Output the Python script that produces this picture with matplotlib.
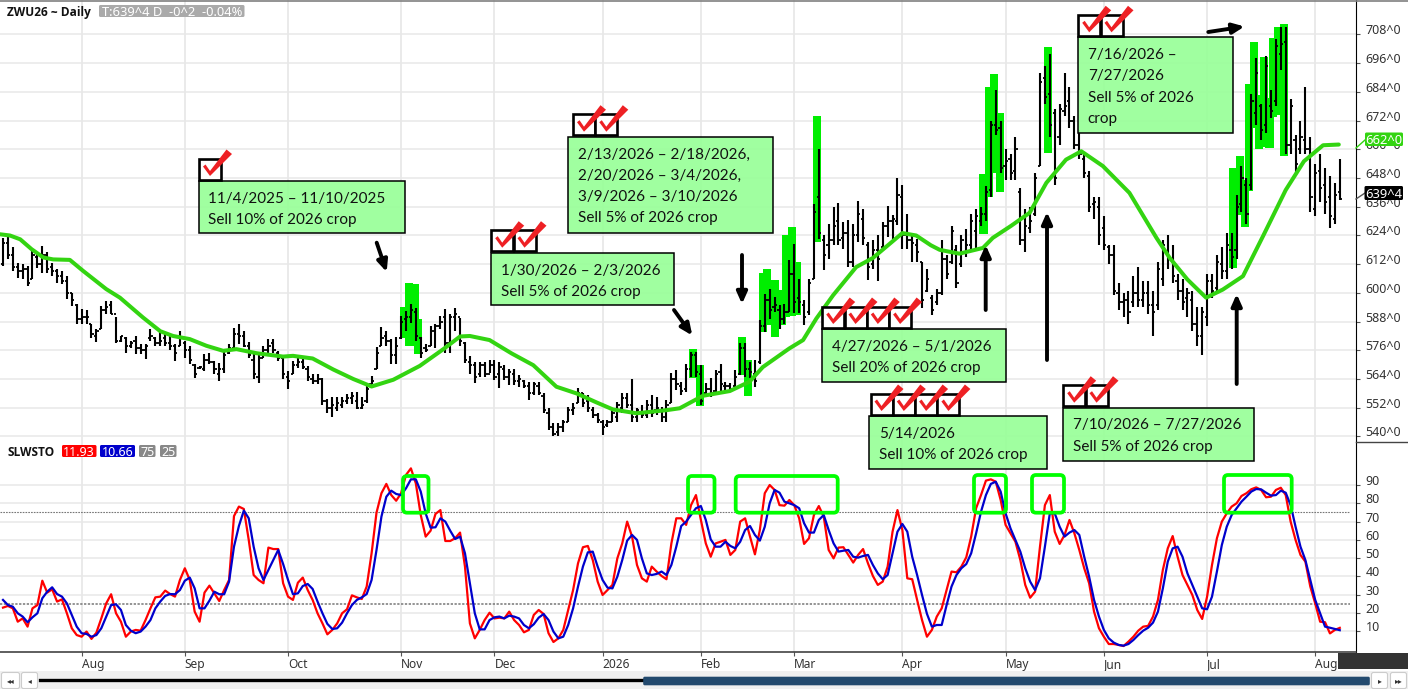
# -*- coding:utf-8 -*-
# ZWU26 daily bars with slow stochastic and the sell signal notes

import numpy as np
import matplotlib
matplotlib.use("Agg")
import matplotlib.pyplot as plt
from matplotlib.patches import Rectangle, Polygon, FancyBboxPatch, FancyArrowPatch

plt.rcParams['font.family'] = ['Noto Sans', 'DejaVu Sans']

# bar values, one per trading day
highs = [623,623.5,619,612.7,612,611.3,617.6,616.6,619.7,616.9,
    612.7,610,609.2,607,600,595.3,593.2,593,587,584.8,
    594.6,596.5,596.5,590,582,581.4,580,582,578.6,578.6,
    584.8,581.4,584,582.7,582,578.6,584,580,577.9,570.2,
    569.5,574.4,575,571.6,570.9,575.8,578.6,585.5,587,584,
    579.3,575,575,577.9,580.7,580.7,575.8,573,567.4,571.6,
    573,572.3,569.5,566,566,564.6,555.6,556.3,556.3,556.3,
    557.7,558.4,558.4,556.3,561.2,565.3,577.6,585.7,584,580.7,
    581.4,590.4,592.5,595.3,593.9,581.4,578.6,586.2,587,590.4,
    593.2,591,593.9,589.7,579.3,573.7,571.2,571.2,571.2,571.9,
    571.9,571.2,569.8,568.4,568.4,565.7,563.6,562.9,562.9,562.9,
    558,551.8,545.5,545.5,546.9,552.5,553.8,560.1,558,557.3,
    552.5,549.7,546.9,546.9,551.1,554.5,558,558,564,551.8,
    553.2,555.2,557.3,556.6,552.5,555.2,566.4,567.8,562.9,570.5,
    575.4,575.4,569.8,562.2,564.3,567.8,570.5,562.9,562.2,567.8,
    578.9,578.9,571.2,571.9,588.6,599.7,601.8,598.3,594.9,595.5,
    613.6,620.6,606,596.9,606,637.3,660.2,624,628.9,635.9,
    637.7,629.6,630.3,628.9,638.6,635.2,621.3,622,624,629.6,
    636.3,632.4,648,644.9,633,624,622.7,612.9,610,599,
    601.8,622,616,628,620,624,626.5,633,635,636,
    644.6,672,685,672,660,658,665,644,635,636,
    650,692,695,700,677,679,692,686,674,668,
    658,651,640,640,632,620,620,604,600,601,
    607,611,605,605,601,613,622,624,620,608,
    606,602,601,594,594,608,608,616,619,625,
    625,641,653,648,683,698,679,699,685,706,
    711,711,681,666,672,686,665,654,658,652,649,646,656]
lows = [611.3,614,609.2,606.4,605.7,602.7,605.7,610.6,608.5,608.5,
    607,604.3,603.6,597.4,594.6,587,587,587,581,579.3,
    584.8,591,591,579,579.3,575,577,574.4,574.4,572.3,
    580,578,577.9,577.9,576,571.6,577.9,573,570.2,564.6,
    568,567.4,570.2,566,563.2,566.7,574.4,576.5,578.6,577.2,
    573,563.9,562.5,573,574.4,575,571.6,563.9,559.8,566,
    568.8,568,563.2,561.9,561.9,553,550,548,550.7,552,
    553.5,553.5,551.4,551.4,554.2,561.9,568,577.9,577.9,570.2,
    570.2,580.7,584,587.6,580,573,575.5,577.9,577,584.8,
    575,575,584,578,570.9,566,562.2,565,565,566.4,
    563.6,560.1,563.6,561.5,561.5,560.8,560.1,555.2,557.3,557.3,
    549.7,542.7,540.4,540.4,542,546.2,549,553.8,552.5,550.4,
    547.6,545.5,540.6,544.1,546.2,546.2,549.7,551.8,546.2,546.2,
    547.6,547.6,548.3,549,546.2,546.2,553.8,559.4,557.3,558.7,
    565,565,553.2,556.6,556.6,558.7,558.7,559.4,558.7,560.8,
    565.7,565,564.3,560.8,570.5,583.7,589.3,592,585.1,587.2,
    592,591.4,591.4,586.5,590.7,606,622.7,609.5,614.3,619.9,
    619.9,618.5,610.8,610.8,621.3,619.9,605.3,610,604.9,618.5,
    623.4,622.7,628.2,618.5,618.5,612.9,612.9,593.5,600.4,590.7,
    594.9,599,606,612,602,611,615,617,618,628,
    630,640,666,650,647,647,647,620,617,625,
    632,653,679,665,645,662,674,669,660,656,
    648,634,631,620,618,612,599,593,590,587,
    594,594,594,591,582,593,603,610,604,597,
    593,590,584,578,574,586,598,600,606,606,
    610,614,634,629,643,670,664,667,673,678,
    693,658,658,650,658,658,634,632,638,633,627,629,639]
opens = [612,621,616,611,609,610,606,615,612,616,
    611,609,607,605,600,595,589,590,587,582,
    585,593,595,591,580,581,578,580,577,576,
    581,581,579,581,579,578,578,579,576,570,
    568.5,568,572,571,566,568,575,577,583,582,
    578,572,565,573,576,579,575,573,565,566,
    570,571,568,564,563,564,555,552,552,553,
    555,556,555,552,555,562,568,578,582,580,
    574,581,589,590,592,581,577,578,584,586,
    590,579,590,590,579,571,570,566,570,566,
    570,566,568,565,566,563,563,561,558,561,
    557,550,544,542,544,546,551,554,558,555,
    551,549,546,545,546,548,552,556,553,548,
    550,549,553,551,551,548,554,564,561,560,
    568,574,566,558,560,559,567,561,561,561,
    566,577,568,566,571,586,597,594,593,589,
    592,608,598,595,592,606,640,622,620,622,
    630,623,625,613,624,631,620,612,618,619,
    628,630,630,640,624,622,620,613,601,598,
    596,600,614,613,618,612,617,620,626,630,
    633,643,670,669,653,656,651,642,622,627,
    633,653,690,683,675,665,676,680,672,662,
    656,649,637,636,627,619,616,600,596,597,
    596,600,597,600,595,595,606,617,614,605,
    601,598,597,587,582,590,605,602,612,609,
    618,618,637,645,645,675,678,670,678,680,
    700,705,662,664,660,664,660,635,651,645,640,631,642]
closes = [621,616,611,609,610,604,616,612,616,610,
    609,607,605,600,597,589,590,590,583,584,
    593,594,591,580,582,578,579,577,576,578,
    582,579,580,579,578,575,581,576,572,566,
    569,572,571,568,568,574,577,583,582,578,
    574,566,573,576,578,576,573,566,563,570,
    571,569,565,563,564,555,552,553,554,555,
    556,557,552,553,560,563,575,581,580,574,
    578,588,590,593,582,575,576,584,586,588,
    579,590,591,580,572,570,565,570,566,570,
    565,569,565,567,563,564,561,558,562,558,
    551,544,541,544,546,551,552,558,554,552,
    549,547,544,546,550,553,556,553,548,551,
    549,553,550,552,548,553,564,562,559,568,
    574,567,555,560,558,566,562,561,560,565,
    577,568,567,563,586,597,593,595,589,592,
    608,596,596,590,604,634,625,616,622,628,
    622,625,613,624,633,623,611,618,614,628,
    630,631,641,624,622,621,617,597,606,593,
    600,614,608,626,604,622,620,630,632,633,
    642,670,668,652,655,650,660,622,628,630,
    648,688,682,670,648,677,678,672,662,658,
    650,636,638,624,620,616,601,596,597,592,
    600,597,600,595,592,610,620,614,607,601,
    596,600,587,582,592,605,601,613,609,620,
    615,636,648,633,680,692,668,695,676,703,
    704,662,678,654,665,660,640,650,644,638,632,641,639.4]

# green thick marks behind the sell days
hl_pos = [81.6,82.6,83.8,84.5,140.4,141.8,150.3,151.5,154.6,155.4,157,158.4,159.3,160.5,161.6,165.6,
    199.5,200.6,201.6,202.9,212.6,250.3,251.7,252.7,253.5,254.5,255.5,256.5,257.7,258.5,259.5,260.7]
hl_top = [594.3,604.3,603.6,589,576.5,569.8,581.5,571.9,608.5,609.9,605.6,601.4,624,627.5,613,673.8,
    649.7,686.2,691.4,675.3,702.6,652.3,657.4,647.2,687.3,705,682.7,698.7,681.5,706.7,711.3,712.3]
hl_bottom = [581,577.9,577.9,574.4,564.6,552.9,565.7,556.9,583.5,586.8,581.4,586.8,590,590.4,590.7,621.3,
    624.6,640.2,650.2,642.2,658.3,610.5,632.6,627.6,642.6,669,660.1,661,660.7,673.6,674.4,657.2]

# moving average, read at its bends
ma_pos = [-0.6,1.4,3.5,5.8,8.2,10.2,13.6,16.3,21,23.8,28.5,32,34.6,38,41.4,44.8,47.5,51.6,57,59,63,67.2,71.3,75,
    79.4,84.8,89.6,93,95,99,103.5,107.9,112.6,116.7,120.7,124.1,128.9,135,137.7,142.4,147.9,151.9,154.6,160,
    162.8,165.5,168.9,173.6,177,183,185.8,188.8,190.6,194.6,199.4,201.4,205.1,208.9,212.3,216.3,219.4,223.8,
    229.2,234.7,237.4,241,244.8,248.2,252.3,256.4,261,264.7,268.6,271.8]
ma_val = [624.5,624,622.4,618.3,614.8,614,613.8,609.2,601.6,598,589.7,584,582,580.7,577.9,575.8,576.5,574.8,573.4,
    573.7,572.6,568,564,560.9,563.7,569.5,576.5,581.8,582,580.3,574.7,569.8,560.8,558,554.3,551.3,549.7,551,
    551.8,557,559,562.9,569,576.8,580.3,589.3,599,610.8,614.6,625,624,619.9,618,616.4,618.8,623,628,633.5,
    646,655.7,659.2,653,641.8,623,614.6,605.6,598,601.4,607,623.8,643,655,661.7,662]

# slow stochastic
stoch_red = [23,23.9,22.6,15.3,17.1,12.6,22.6,24.4,37.7,31.2,33,26.3,27.5,19.9,11.7,8,7.1,9.9,5.9,9.3,
    17.1,25.3,30.3,19.9,15.3,7.1,9.9,10.8,10.4,16.2,22.6,28.6,29,32.3,30.4,29,38.1,44.5,38.1,20.8,
    15.3,31.2,35,30.8,26.6,32.6,38.1,73,78.2,76.9,60,40.8,38.1,36.3,55.8,55,55,36.3,29,27.2,
    36.6,39.4,32.6,27.2,19.9,14.4,8.4,10.8,14.4,19.9,22.1,29.7,28.6,27.7,34.5,52.7,74.9,85.5,90.6,84.5,
    81.4,85.5,95.5,99.1,90.9,73.6,61.8,65,74.2,76.3,59.4,59.4,60.9,64,45.4,14.4,
    6.2,10.8,16.2,20.2,17.1,17.5,17.1,20.8,16.2,13.5,9.5,10.8,19,21.7,19.5,9,4.2,6.2,10.8,21.7,
    32.6,47.2,56,56.7,49,37.2,29.9,32.6,35.4,49.9,58.1,70,61.8,46.3,39,37.2,45.4,42.7,40.3,38.5,
    58.1,71.8,71.8,68.2,79,84.5,70.9,58.1,50.8,58.1,59,60,51.8,54.5,70,71.8,61.8,52.1,65.4,85.5,
    90,87.3,79,78.7,81.8,79,71.8,57.8,60.9,73.6,78.5,72.7,54.5,49.9,55.8,56,51.8,47.6,51.8,55,
    47.2,40.3,35.4,37.2,45.4,64.5,76.3,65.4,39,38.5,27.2,16.2,7.1,10.8,18.1,
    22.6,32.6,42.7,42.3,45.4,50.5,61.8,77.3,84.5,92.4,93.1,91.8,81.8,68.2,63.6,59,49,35.4,28.4,31.7,
    56.3,79,84.5,64.5,57.8,62.7,70.9,63.6,54.5,44.5,36.3,20.8,11.7,7.1,3.1,3.1,2.6,2,4.4,7.1,
    10.4,12.6,13,18.1,27.2,43.6,55.4,62.1,50.8,40.8,35.4,29.9,21.7,16.8,29,46.3,60.9,70,74.5,78.2,
    80,84,85.5,87.7,88.7,87.3,83.3,83.6,87.3,88.5,84.5,70,60,51.8,48.1,34.5,25.3,15.3,15,8.9,10.8,11.93]
stoch_blue = [27.2,24.4,23.5,19.9,18.1,15,17.7,19.9,28.1,31.7,34.1,30.4,29,25.3,19,12.6,9,8.6,7.1,8,
    11.7,18.1,24.4,24.8,21.7,13.5,10.4,9,9.9,12.6,16.2,22.6,26.3,29.4,30.4,30.3,32.6,37.7,39.4,33.5,
    22.6,22.6,26.8,31.7,30.3,30.3,37.2,56.3,67.6,76,71.8,56.3,44.5,38.1,43.6,49,54.5,46.8,38.1,30.3,
    30.8,34.8,35.9,33.2,26.3,19.9,14.1,11.3,11.7,14.8,19.9,24.4,27.2,28.6,30.4,38.1,54.5,72.7,83.6,86.9,
    85.1,84.5,88.2,93.1,93.1,86.4,74.5,66.7,66.9,71.8,70,65,60.5,61.8,52.7,36.3,
    19.9,11.1,11.1,16.2,17.7,18.1,17.1,18.6,18.1,17.1,13.5,11.7,13.9,17.5,19.5,16.2,9.9,6.2,7.1,13.5,
    22.6,34.5,45.4,53.2,53.6,45.4,38.1,33.9,33.5,39.9,49,59.6,62.7,60,49.9,41.7,40.8,41.4,42.7,40.8,
    46.3,56.3,67.6,70,73.6,77.3,78.5,70.9,60.3,56.3,56.3,59,56.7,55.4,59,65.4,67.6,62.7,59.6,67.2,
    80,87.3,85.8,80.9,80,79,77.3,69.1,64,64,70.9,73.6,65.4,58.1,53.6,54.1,54.5,50.8,50.3,51.2,
    51.8,46.3,41.7,38.5,40.8,52.7,64.5,68.7,64.5,50.8,40.8,29.9,19.6,12.6,13.5,
    13.5,24.4,34.5,40.8,44.5,46.8,52.7,63.6,75.4,84.5,90.6,91.8,86.4,74.5,66.3,60,53.6,44.5,37.2,32.6,
    39,56.3,74.5,74.5,67.2,61.8,64,65.4,62.7,50.8,39.9,27.2,18.1,10.8,6.2,3.9,2.6,2.2,3.1,5.3,
    8,10.4,12,14.8,20.8,33.5,48.1,55.4,56.3,50.8,41.7,35.4,29,22.6,22.1,29,42.7,57.2,67.2,73.6,
    77.3,80.9,83.6,86.4,87.8,87.6,85.8,84.2,84.5,86.9,85.8,79,67.2,56.3,49,38.1,27.2,19.9,12.6,12,11.3,10.66]

month_pos = [16, 37, 58, 81, 100, 122, 142, 161, 183, 204, 224, 245, 267]
month_names = ["Aug", "Sep", "Oct", "Nov", "Dec", "2026", "Feb", "Mar", "Apr", "May", "Jun", "Jul", "Aug"]
price_ticks = [540, 552, 564, 576, 588, 600, 612, 624, 636, 648, 660, 672, 684, 696, 708]
stoch_ticks = [10, 20, 30, 40, 50, 60, 70, 80, 90]

# (left, top, right, bottom, left of first check box, checks, text lines)
notes = [
    (198.5, 181, 404.5, 233, 199, 1, ["11/4/2025 – 11/10/2025", "Sell 10% of 2026 crop"]),
    (490.7, 252.7, 674, 305, 491.2, 2, ["1/30/2026 – 2/3/2026", "Sell 5% of 2026 crop"]),
    (568.3, 136.7, 772.7, 233.3, 573, 2, ["2/13/2026 – 2/18/2026,", "2/20/2026 – 3/4/2026,", "3/9/2026 – 3/10/2026", "Sell 5% of 2026 crop"]),
    (821.7, 329, 1005.7, 382, 822.2, 4, ["4/27/2026 – 5/1/2026", "Sell 20% of 2026 crop"]),
    (869.3, 416, 1047.3, 469, 870.5, 4, ["5/14/2026", "Sell 10% of 2026 crop"]),
    (1062.7, 407.7, 1254.3, 461, 1063.2, 2, ["7/10/2026 – 7/27/2026", "Sell 5% of 2026 crop"]),
    (1077.7, 37.3, 1233.3, 133.3, 1078.2, 2, ["7/16/2026 –", "7/27/2026", "Sell 5% of 2026", "crop"]),
]
# (x0, y0, x1, y1) in pixels
arrows = [(376.7, 242.7, 386.7, 272), (674, 310, 692.3, 335.5), (742, 255, 742, 304), (985.7, 310, 985.7, 245),
    (1047, 360, 1047, 212), (1236.7, 384, 1236.7, 294), (1208.3, 32, 1244.5, 26.5)]
# (left, top, right, bottom) of the overbought boxes
ob_boxes = [(403, 476, 428.5, 512.7), (688, 476, 714.5, 512.7), (735.7, 476, 837.7, 512.7),
    (974, 475, 1006, 512.7), (1032, 475, 1064, 512.7), (1224, 475, 1291.7, 512.7)]

W, H = 1408.0, 689.0
bar_color = "black"
grid_color = "#e8e8e8"
label_color = "#333333"


def px_axes(fig, left, top, right, bottom):
    return fig.add_axes([left/W, 1-bottom/H, (right-left)/W, (bottom-top)/H])


fig = plt.figure(figsize=(14.08, 6.89), dpi=100, facecolor="white")
ax1 = px_axes(fig, 0, 0, 1356, 442)
ax2 = px_axes(fig, 0, 442, 1356, 652)
xlim = (-0.61, 275.3)

x = np.arange(len(highs))

# price panel
for v in price_ticks:
    ax1.axhline(v, color=grid_color, lw=1.1, zorder=0)
for v in month_pos:
    ax1.axvline(v, color=grid_color, lw=1.3, zorder=0)
ax1.bar(hl_pos, np.array(hl_top)-np.array(hl_bottom), bottom=hl_bottom, width=1.65, color="#00ee00", zorder=1)
ax1.vlines(x, lows, highs, color=bar_color, lw=1.5, zorder=2)
ax1.hlines(opens, x-0.45, x, color=bar_color, lw=1.3, zorder=2)
ax1.hlines(closes, x, x+0.45, color=bar_color, lw=1.3, zorder=2)
ax1.plot(ma_pos, ma_val, color="#33d411", lw=2.9, zorder=3, solid_capstyle="round")
ax1.set_xlim(xlim)
ax1.set_ylim(537.7, 722.4)
ax1.set_yticks(price_ticks)
ax1.set_yticklabels(["%d^0" % v for v in price_ticks])
ax1.set_xticks([])

# stochastic panel
for v in stoch_ticks:
    ax2.axhline(v, color=grid_color, lw=1.1, zorder=0)
for v in month_pos:
    ax2.axvline(v, color=grid_color, lw=1.3, zorder=0)
ax2.plot([xlim[0], 274], [75, 75], color="#777777", lw=0.8, ls=(0, (1.5, 1)), zorder=1)
ax2.plot([xlim[0], 274], [25, 25], color="#777777", lw=1.1, ls=(0, (1.5, 1)), zorder=1)
ax2.plot(x, stoch_red, color="#ff0000", lw=1.6, zorder=2)
ax2.plot(x, stoch_blue, color="#0000cc", lw=1.6, zorder=3)
ax2.set_xlim(xlim)
ax2.set_ylim(-1.26, 113.5)
ax2.set_yticks(stoch_ticks)
ax2.set_xticks(month_pos)
ax2.set_xticklabels(month_names, ha="left")

for ax in (ax1, ax2):
    ax.patch.set_alpha(0)
    ax.yaxis.tick_right()
    ax.spines["left"].set_visible(False)
    ax.spines["top"].set_visible(False)
    ax.spines["right"].set_color("black")
    ax.tick_params(axis="y", length=3, width=0.8, color="#555555", labelcolor=label_color, labelsize=9, pad=4)
    ax.tick_params(axis="x", length=3, width=0.8, color="#555555", labelcolor=label_color, labelsize=8.6, pad=1.5)
    for lbl in ax.get_yticklabels():
        lbl.set_verticalalignment("baseline")
ax1.spines["bottom"].set_visible(False)
ax2.spines["bottom"].set_color("#333333")
ax2.spines["bottom"].set_linewidth(1.1)

# everything drawn by hand on the screenshot goes on a pixel overlay
ov = fig.add_axes([0, 0, 1, 1], zorder=5)
ov.set_xlim(0, W)
ov.set_ylim(H, 0)
ov.axis("off")
ov.patch.set_alpha(0)


def tag(x0, y0, x1, y1, color, txt, txtcolor="white", size=9):
    ov.add_patch(FancyBboxPatch((x0+1, y0+1), x1-x0-2, y1-y0-2, boxstyle="round,pad=1,rounding_size=1.5",
                                fc=color, ec="none", zorder=6))
    ov.text((x0+x1)/2, (y0+y1)/2, txt, color=txtcolor, fontsize=size, ha="center", va="center_baseline", zorder=7)


ov.plot([0, W], [1, 1], color="#808080", lw=1.2)
ov.plot([1356, W], [442, 442], color="#444444", lw=1)

# header
ov.text(7, 11, "ZWU26 ~ Daily", fontsize=8.6, fontweight="bold", family="Open Sans", color="#111111", va="center_baseline")
tag(99, 5, 244.5, 17, "#aaaaaa", "T:639^4 D  -0^2  -0.04%", size=9.3)
ov.text(7, 451, "SLWSTO", fontsize=8.6, fontweight="bold", family="Open Sans", color="#111111", va="center_baseline")
tag(62, 445, 96.5, 457, "#ff0000", "11.93")
tag(100, 445, 135, 457, "#0000cc", "10.66")
tag(139, 445, 155.5, 457, "#888888", "75")
tag(160, 445, 176.5, 457, "#888888", "25")

# last value tags on the price scale
ov.plot([1356, 1365], [148, 140], color="#33d411", lw=1)
ov.plot([1356, 1365], [199, 193], color="#555555", lw=1)
tag(1365, 132.5, 1403, 146, "#33d411", "662^0", size=9.3)
tag(1364.5, 186, 1403, 200, "#000000", "639^4", size=9.3)

# overbought boxes
for left, top, right, bottom in ob_boxes:
    ov.add_patch(FancyBboxPatch((left+3, top+3), right-left-6, bottom-top-6, boxstyle="round,pad=3,rounding_size=4",
                                fc="none", ec="#00ff00", lw=2.7, zorder=6))


def check_box(left, top):
    ov.add_patch(Rectangle((left, top), 22, 21, fc="white", ec="black", lw=1.9, zorder=8))
    tick = [(4, 8), (6.5, 6), (11, 12.5), (27.5, -9), (33, -4.5), (11, 17.5)]
    ov.add_patch(Polygon([(left+a, top+b) for a, b in tick], closed=True, fc="#ee2024", ec="none", zorder=9))


# green notes with their check boxes
for left, top, right, bottom, check_left, checks, lines in notes:
    ov.add_patch(Rectangle((left, top), right-left, bottom-top, fc=(0.6, 1, 0.6, 0.93), ec="black", lw=1.1, zorder=7))
    for n, line in enumerate(lines):
        ov.text(left+10, top+16.3+n*21.2, line, fontsize=11, family="Lato", color="#111111",
                va="center_baseline", zorder=8)
    for n in range(checks):
        check_box(check_left+n*22.3, top-22.5)

for x0, y0, x1, y1 in arrows:
    ov.add_patch(FancyArrowPatch((x0, y0), (x1, y1), arrowstyle="-|>,head_length=0.38,head_width=0.17",
                                 mutation_scale=18, lw=2.8, color="black", shrinkA=0, shrinkB=0, zorder=9))

# dark corner and scroll bar under the chart
ov.add_patch(Rectangle((1338, 653), 70, 16, fc="#333333", ec="none", zorder=4))
ov.add_patch(Rectangle((0, 671), W, 18, fc="#f0f0f0", ec="none", zorder=4))
ov.plot([40, 643], [680, 680], color="black", lw=2.4, zorder=5)
ov.add_patch(FancyBboxPatch((644, 677.5), 725, 7, boxstyle="round,pad=0.8,rounding_size=1.5", fc="#234a6e", ec="none", zorder=5))
for left, width, glyph in [(2, 17, "◂◂"), (22, 15, "◂"), (1372, 15, "▸"), (1391, 15, "▸▸")]:
    ov.add_patch(FancyBboxPatch((left, 673), width, 15, boxstyle="round,pad=0.5,rounding_size=2", fc="white",
                                ec="#cccccc", lw=0.8, zorder=5))
    ov.text(left+width/2, 680.5, glyph, fontsize=5.5, color="#333333", ha="center", va="center",
            family=["DejaVu Sans"], zorder=6)

fig.savefig("out.png", dpi=100)
